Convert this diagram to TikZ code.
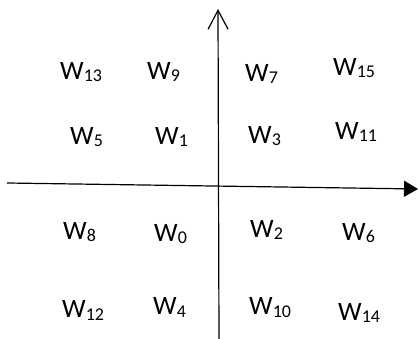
\documentclass[tikz,border=0pt]{standalone}
\usepackage{fontspec}
\setmainfont{Carlito}
\usetikzlibrary{arrows.meta}
\newcommand\wsub[1]{W\raisebox{-2pt}{\fontsize{18}{18}\selectfont #1}}
\tikzset{
  wlab/.style={anchor=base west, inner sep=0pt, font=\fontsize{26.5}{30}\selectfont},
  axis/.style={line width=1.2pt, black}
}
\begin{document}
\begin{tikzpicture}[x=1pt,y=-1pt]
\useasboundingbox (0,0) rectangle (418,339);
\coordinate (xl) at (7,183);
\coordinate (xr) at (418,189);
\coordinate (yb) at (219,339);
\coordinate (yt) at (218,9);
\draw[axis,-{Triangle[length=14pt,width=16pt]}] (xl) -- (xr);
\draw[axis,-{Straight Barb[length=19pt,width=20pt]}] (yb) -- (yt);
\node[wlab] (w13) at (60,80) {\wsub{13}};
\node[wlab] (w9) at (147,80) {\wsub{9}};
\node[wlab] (w7) at (245,82) {\wsub{7}};
\node[wlab] (w15) at (333,76) {\wsub{15}};
\node[wlab] (w5) at (70,145) {\wsub{5}};
\node[wlab] (w1) at (155,145) {\wsub{1}};
\node[wlab] (w3) at (248,144) {\wsub{3}};
\node[wlab] (w11) at (335,140) {\wsub{11}};
\node[wlab] (w8) at (63,240) {\wsub{8}};
\node[wlab] (w0) at (154,242) {\wsub{0}};
\node[wlab] (w2) at (250,238) {\wsub{2}};
\node[wlab] (w6) at (342,241) {\wsub{6}};
\node[wlab] (w12) at (62,318) {\wsub{12}};
\node[wlab] (w4) at (153,315) {\wsub{4}};
\node[wlab] (w10) at (249,315) {\wsub{10}};
\node[wlab] (w14) at (338,320) {\wsub{14}};
\end{tikzpicture}
\end{document}
